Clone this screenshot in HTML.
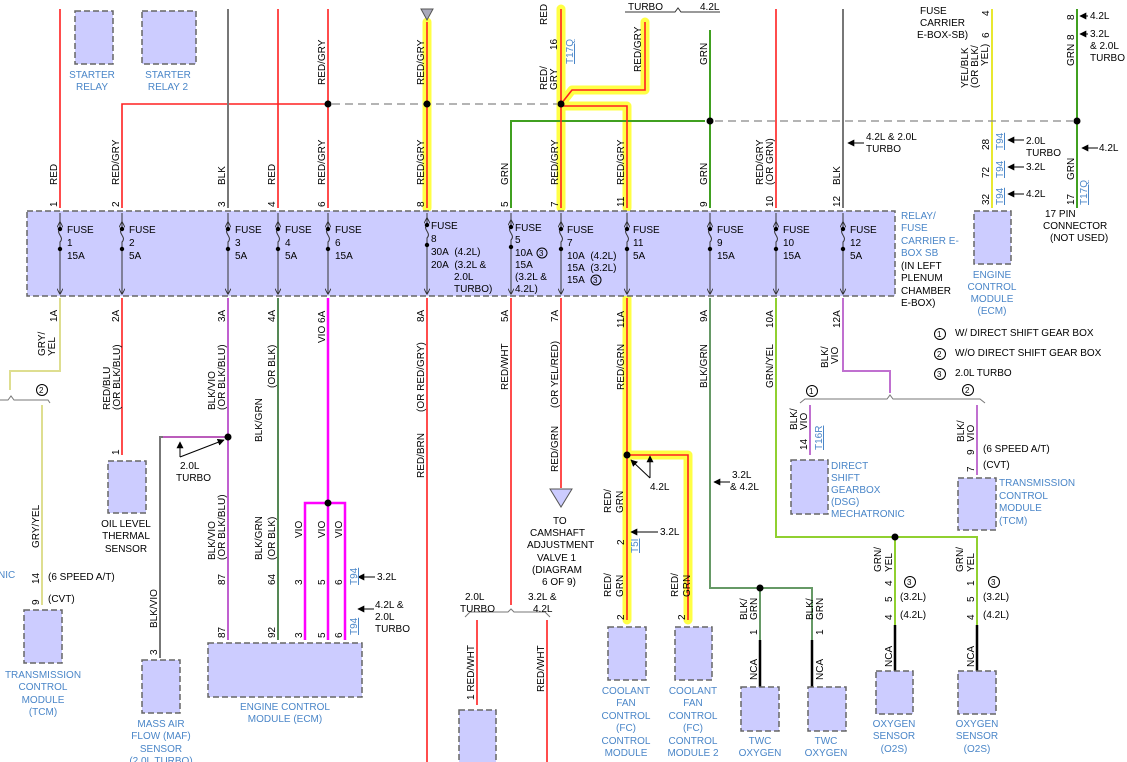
<!DOCTYPE html>
<html><head><meta charset="utf-8"><style>
html,body{margin:0;padding:0;background:#fff;}
svg{display:block;font-family:"Liberation Sans",sans-serif;font-size:10px;}
.b{fill:#4a86c8;}
.box{fill:#ccccff;stroke:#666;stroke-width:1.5;stroke-dasharray:6,3;}
.hl{stroke:#ffff44;stroke-width:9;fill:none;stroke-linecap:round;stroke-linejoin:round;}
.r{stroke:#ff2020;stroke-width:1.6;fill:none;}
.g{stroke:#40a020;stroke-width:2;fill:none;}
.k{stroke:#777;stroke-width:2;fill:none;}
.d{stroke:#888;stroke-width:1.2;stroke-dasharray:8,5;fill:none;}
.f{stroke:#333;stroke-width:1;fill:none;}
.a{stroke:#000;stroke-width:1;fill:none;}
</style></head><body>
<svg width="1127" height="762" viewBox="0 0 1127 762" xmlns="http://www.w3.org/2000/svg">
<defs>
<marker id="ar" viewBox="0 0 10 10" refX="9" refY="5" markerWidth="7" markerHeight="7" orient="auto"><path d="M0 0L10 5L0 10Z" fill="#000"/></marker>
<marker id="av" viewBox="0 0 10 10" refX="9" refY="5" markerWidth="6" markerHeight="6" orient="auto"><path d="M0 0L10 5L0 10" fill="none" stroke="#333" stroke-width="1.5"/></marker>
</defs>
<!-- top relays -->
<rect class="box" x="75" y="11" width="38" height="53"/>
<rect class="box" x="142" y="11" width="54" height="53"/>
<text class="b" x="92" y="78" text-anchor="middle">STARTER</text><text class="b" x="92" y="90" text-anchor="middle">RELAY</text>
<text class="b" x="168" y="78" text-anchor="middle">STARTER</text><text class="b" x="168" y="90" text-anchor="middle">RELAY 2</text>

<!-- highlights -->
<path class="hl" d="M427 22V208M561 9V208M645 22V90H572L561 104M561 106H627V208"/>
<path class="hl" d="M627 298V620M627 455H688V620"/>

<!-- top wires -->
<path class="r" d="M60 9V208"/>
<path class="r" d="M122 208V104H325"/>
<path class="k" d="M228 9V208"/>
<path class="r" d="M278 9V208"/>
<path class="r" d="M328 9V208"/>
<path class="r" d="M427 22V208"/>
<path class="g" d="M511 208V121H705"/>
<path class="r" d="M561 9V208"/>
<path class="r" d="M645 22V90H572L561 104M561 106H627V208"/>
<path class="g" d="M710 30V208"/>
<path class="r" d="M776 9V208"/>
<path class="k" d="M843 9V208"/>
<path d="M992 9V208" stroke="#e8e830" stroke-width="2"/>
<path class="g" d="M1077 9V208"/>
<path class="d" d="M332 104H557M715 121H1073"/>
<path d="M421 9L427 20L433 9Z" fill="#aab" stroke="#555"/>
<g fill="#000"><circle cx="328" cy="104" r="3.5"/><circle cx="427" cy="104" r="3.5"/><circle cx="561" cy="104" r="3.5"/><circle cx="710" cy="121" r="3.5"/><circle cx="1077" cy="121" r="3.5"/></g>
<path d="M625 12H675L678 8L681 12H720" class="f" stroke="#777"/>
<text x="628" y="10">TURBO</text><text x="700" y="10">4.2L</text>

<!-- top vertical labels -->
<g>
<text transform="translate(57,185) rotate(-90)">RED</text>
<text transform="translate(119,185) rotate(-90)">RED/GRY</text>
<text transform="translate(225,185) rotate(-90)">BLK</text>
<text transform="translate(275,185) rotate(-90)">RED</text>
<text transform="translate(325,185) rotate(-90)">RED/GRY</text>
<text transform="translate(325,85) rotate(-90)">RED/GRY</text>
<text transform="translate(424,185) rotate(-90)">RED/GRY</text>
<text transform="translate(424,85) rotate(-90)">RED/GRY</text>
<text transform="translate(508,185) rotate(-90)">GRN</text>
<text transform="translate(558,185) rotate(-90)">RED/GRY</text>
<text transform="translate(547,90) rotate(-90)">RED/</text><text transform="translate(557,90) rotate(-90)">GRY</text>
<text transform="translate(557,50) rotate(-90)">16</text>
<text transform="translate(547,25) rotate(-90)">RED</text>
<text class="b" transform="translate(573,64) rotate(-90)" text-decoration="underline">T17Q</text>
<text transform="translate(641,72) rotate(-90)">RED/GRY</text>
<text transform="translate(624,185) rotate(-90)">RED/GRY</text>
<text transform="translate(707,185) rotate(-90)">GRN</text>
<text transform="translate(707,65) rotate(-90)">GRN</text>
<text transform="translate(763,185) rotate(-90)">RED/GRY</text><text transform="translate(773,185) rotate(-90)">(OR GRN)</text>
<text transform="translate(840,185) rotate(-90)">BLK</text>
<text transform="translate(968,88) rotate(-90)">YEL/BLK</text><text transform="translate(978,88) rotate(-90)">(OR BLK/</text><text transform="translate(988,66) rotate(-90)">YEL)</text>
<text transform="translate(989,38) rotate(-90)">6</text><text transform="translate(989,16) rotate(-90)">4</text>
<text transform="translate(1074,66) rotate(-90)">GRN</text>
<text transform="translate(1074,40) rotate(-90)">8</text><text transform="translate(1074,20) rotate(-90)">8</text>
<text transform="translate(1074,180) rotate(-90)">GRN</text>
<text transform="translate(989,150) rotate(-90)">28</text><text transform="translate(989,178) rotate(-90)">72</text><text transform="translate(989,205) rotate(-90)">32</text>
<text transform="translate(1074,205) rotate(-90)">17</text>
<g class="b" text-decoration="underline"><text transform="translate(1003,150) rotate(-90)">T94</text><text transform="translate(1003,178) rotate(-90)">T94</text><text transform="translate(1003,205) rotate(-90)">T94</text><text transform="translate(1087,205) rotate(-90)">T17Q</text></g>
<text transform="translate(57,207) rotate(-90)">1</text><text transform="translate(119,207) rotate(-90)">2</text><text transform="translate(225,207) rotate(-90)">3</text><text transform="translate(275,207) rotate(-90)">4</text><text transform="translate(325,207) rotate(-90)">6</text><text transform="translate(424,207) rotate(-90)">8</text><text transform="translate(508,207) rotate(-90)">5</text><text transform="translate(558,207) rotate(-90)">7</text><text transform="translate(624,207) rotate(-90)">11</text><text transform="translate(707,207) rotate(-90)">9</text><text transform="translate(773,207) rotate(-90)">10</text><text transform="translate(840,207) rotate(-90)">12</text>
</g>
<text x="920" y="14">FUSE</text><text x="920" y="26">CARRIER</text><text x="917" y="38">E-BOX-SB)</text>
<text x="1090" y="19">4.2L</text><text x="1090" y="37">3.2L</text><text x="1090" y="49">&amp; 2.0L</text><text x="1090" y="61">TURBO</text>
<text x="866" y="140">4.2L &amp; 2.0L</text><text x="866" y="152">TURBO</text>
<text x="1026" y="144">2.0L</text><text x="1026" y="156">TURBO</text><text x="1026" y="170">3.2L</text><text x="1026" y="197">4.2L</text>
<text x="1099" y="151">4.2L</text>
<path class="a" marker-end="url(#ar)" d="M1088 16H1080"/>
<path class="a" marker-end="url(#ar)" d="M1088 34H1080"/>
<path class="a" marker-end="url(#ar)" d="M1024 167H1008"/>
<path class="a" marker-end="url(#ar)" d="M1024 194H1008"/>
<path class="a" marker-end="url(#ar)" d="M1098 148H1082"/>
<path class="a" marker-end="url(#ar)" d="M864 143H848"/>
<path class="a" marker-end="url(#ar)" d="M374 609H358"/>
<path class="a" marker-end="url(#ar)" d="M730 482H714"/>
<path class="a" marker-end="url(#ar)" d="M1024 140H1008"/>
<text x="1045" y="217">17 PIN</text><text x="1043" y="229">CONNECTOR</text><text x="1050" y="241">(NOT USED)</text>
<rect class="box" x="974" y="211" width="37" height="53"/>
<text class="b" x="992" y="278" text-anchor="middle">ENGINE</text><text class="b" x="992" y="290" text-anchor="middle">CONTROL</text><text class="b" x="992" y="302" text-anchor="middle">MODULE</text><text class="b" x="992" y="314" text-anchor="middle">(ECM)</text>

<!-- fuse box -->
<rect class="box" x="27" y="211" width="868" height="85"/>
<g class="f" marker-start="url(#av)" marker-end="url(#av)">
<path d="M60 222V213M60 256V294"/><path d="M122 222V213M122 256V294"/><path d="M228 222V213M228 256V294"/><path d="M278 222V213M278 256V294"/><path d="M328 222V213M328 256V294"/><path d="M427 218V213M427 252V294"/><path d="M511 220V213M511 254V294"/><path d="M561 222V213M561 256V294"/><path d="M627 222V213M627 256V294"/><path d="M710 222V213M710 256V294"/><path d="M776 222V213M776 256V294"/><path d="M843 222V213M843 256V294"/>
</g>
<g class="f">
<path d="M60 222V229c-5 4 5 8 0 13V256"/><path d="M122 222V229c-5 4 5 8 0 13V256"/><path d="M228 222V229c-5 4 5 8 0 13V256"/><path d="M278 222V229c-5 4 5 8 0 13V256"/><path d="M328 222V229c-5 4 5 8 0 13V256"/><path d="M427 218V225c-5 4 5 8 0 13V252"/><path d="M511 220V227c-5 4 5 8 0 13V254"/><path d="M561 222V229c-5 4 5 8 0 13V256"/><path d="M627 222V229c-5 4 5 8 0 13V256"/><path d="M710 222V229c-5 4 5 8 0 13V256"/><path d="M776 222V229c-5 4 5 8 0 13V256"/><path d="M843 222V229c-5 4 5 8 0 13V256"/>
</g>
<g fill="#000">
<circle cx="60" cy="229" r="2.2"/><circle cx="60" cy="249" r="2.2"/><circle cx="122" cy="229" r="2.2"/><circle cx="122" cy="249" r="2.2"/><circle cx="228" cy="229" r="2.2"/><circle cx="228" cy="249" r="2.2"/><circle cx="278" cy="229" r="2.2"/><circle cx="278" cy="249" r="2.2"/><circle cx="328" cy="229" r="2.2"/><circle cx="328" cy="249" r="2.2"/><circle cx="427" cy="225" r="2.2"/><circle cx="427" cy="245" r="2.2"/><circle cx="511" cy="227" r="2.2"/><circle cx="511" cy="247" r="2.2"/><circle cx="561" cy="229" r="2.2"/><circle cx="561" cy="249" r="2.2"/><circle cx="627" cy="229" r="2.2"/><circle cx="627" cy="249" r="2.2"/><circle cx="710" cy="229" r="2.2"/><circle cx="710" cy="249" r="2.2"/><circle cx="776" cy="229" r="2.2"/><circle cx="776" cy="249" r="2.2"/><circle cx="843" cy="229" r="2.2"/><circle cx="843" cy="249" r="2.2"/>
</g>
<g font-size="10">
<text x="67" y="233">FUSE</text><text x="67" y="246">1</text><text x="67" y="259">15A</text>
<text x="129" y="233">FUSE</text><text x="129" y="246">2</text><text x="129" y="259">5A</text>
<text x="235" y="233">FUSE</text><text x="235" y="246">3</text><text x="235" y="259">5A</text>
<text x="285" y="233">FUSE</text><text x="285" y="246">4</text><text x="285" y="259">5A</text>
<text x="335" y="233">FUSE</text><text x="335" y="246">6</text><text x="335" y="259">15A</text>
<text x="431" y="229">FUSE</text><text x="431" y="242">8</text><text x="431" y="255">30A&#160;&#160;(4.2L)</text><text x="431" y="268">20A&#160;&#160;(3.2L &amp;</text><text x="454" y="280">2.0L</text><text x="454" y="292">TURBO)</text>
<text x="515" y="231">FUSE</text><text x="515" y="243">5</text><text x="515" y="256">10A</text><text x="515" y="268">15A</text><text x="515" y="280">(3.2L &amp;</text><text x="515" y="292">4.2L)</text>
<text x="567" y="233">FUSE</text><text x="567" y="246">7</text><text x="567" y="259">10A&#160;&#160;(4.2L)</text><text x="567" y="271">15A&#160;&#160;(3.2L)</text><text x="567" y="283">15A</text>
<text x="633" y="233">FUSE</text><text x="633" y="246">11</text><text x="633" y="259">5A</text>
<text x="717" y="233">FUSE</text><text x="717" y="246">9</text><text x="717" y="259">15A</text>
<text x="783" y="233">FUSE</text><text x="783" y="246">10</text><text x="783" y="259">15A</text>
<text x="850" y="233">FUSE</text><text x="850" y="246">12</text><text x="850" y="259">5A</text>
</g>
<g fill="none" stroke="#000"><circle cx="542" cy="253" r="5"/><circle cx="596" cy="280" r="5"/></g>
<text x="539" y="256" font-size="8">3</text><text x="593" y="283" font-size="8">3</text>
<text class="b" x="901" y="219">RELAY/</text><text class="b" x="901" y="231">FUSE</text><text class="b" x="901" y="244">CARRIER E-</text><text class="b" x="901" y="256">BOX SB</text>
<text x="901" y="269">(IN LEFT</text><text x="901" y="281">PLENUM</text><text x="901" y="294">CHAMBER</text><text x="901" y="306">E-BOX)</text>

<!-- legend -->
<g fill="none" stroke="#000"><circle cx="940" cy="334" r="5.5"/><circle cx="940" cy="354" r="5.5"/><circle cx="940" cy="374" r="5.5"/></g>
<text x="937" y="337" font-size="8">1</text><text x="937" y="357" font-size="8">2</text><text x="937" y="377" font-size="8">3</text>
<text x="955" y="336">W/ DIRECT SHIFT GEAR BOX</text><text x="955" y="356">W/O DIRECT SHIFT GEAR BOX</text><text x="955" y="376">2.0L TURBO</text>

<!-- lower wires -->
<path d="M60 298V371H10V390M42 405V605" stroke="#dede90" stroke-width="2" fill="none"/>
<path d="M0 400H8L11 396L14 400H48L50 403" stroke="#777" fill="none"/>
<path class="r" d="M122 298V455"/>
<path d="M228 298V640" stroke="#c060d0" stroke-width="2"/>
<path d="M228 437H160V658" stroke="#777" stroke-width="2" fill="none"/>
<path d="M228 437H163" stroke="#ff40ff" stroke-width="1"/>
<path d="M278 298V640" stroke="#558855" stroke-width="2"/>
<path d="M328 298V640M305 640V503H345V640" stroke="#ff00ff" stroke-width="2.5" fill="none"/>
<path class="r" d="M427 298V762"/>
<path class="r" d="M511 298V605M477 620V705M547 620V762"/>
<path d="M465 617L470 612H508L511 609L514 612H545L550 617" stroke="#777" fill="none"/>
<path class="r" d="M561 298V488"/>
<path d="M550 489L561 507L572 489Z" fill="#ccccff" stroke="#555"/>
<path class="r" d="M627 298V620M627 455H688V620"/>
<path d="M710 298V588H812V640M760 588V640" stroke="#669966" stroke-width="2" fill="none"/>
<path d="M776 298V537H977V625M895 537V625" stroke="#90d030" stroke-width="2" fill="none"/>
<path d="M843 298V371H890V393M810 405V455M977 405V475" stroke="#c070d0" stroke-width="2" fill="none"/>
<path d="M800 403L805 399H887L890 395L893 399H980L985 403" stroke="#777" fill="none"/>
<path d="M760 640V687M812 640V687M895 625V672M977 625V672" stroke="#000" stroke-width="2.5"/>
<g fill="#000"><circle cx="228" cy="437" r="3.5"/><circle cx="328" cy="503" r="3.5"/><circle cx="627" cy="455" r="3.5"/><circle cx="760" cy="588" r="3.5"/><circle cx="895" cy="537" r="3.5"/></g>
<g fill="none" stroke="#000"><circle cx="42" cy="390" r="5.5"/><circle cx="812" cy="391" r="5.5"/><circle cx="968" cy="390" r="5.5"/><circle cx="910" cy="582" r="5.5"/><circle cx="994" cy="582" r="5.5"/></g>
<text x="39" y="393" font-size="8">2</text><text x="809" y="394" font-size="8">1</text><text x="965" y="393" font-size="8">2</text><text x="907" y="585" font-size="8">3</text><text x="991" y="585" font-size="8">3</text>
<path class="a" marker-end="url(#ar)" d="M180 457V442"/>
<path class="a" marker-end="url(#ar)" d="M180 457L224 440"/>
<text x="180" y="469">2.0L</text><text x="176" y="481">TURBO</text>
<path class="a" marker-end="url(#ar)" d="M650 478L631 460"/>
<path class="a" marker-end="url(#ar)" d="M650 478V456"/>
<text x="650" y="490">4.2L</text>
<path class="a" marker-end="url(#ar)" d="M658 532H631"/>
<path class="a" marker-end="url(#ar)" d="M375 577H358"/>
<text x="732" y="478">3.2L</text><text x="730" y="490">&amp; 4.2L</text>
<text x="377" y="580">3.2L</text><text x="375" y="608">4.2L &amp;</text><text x="375" y="620">2.0L</text><text x="375" y="632">TURBO</text>
<text x="660" y="535">3.2L</text>
<text x="900" y="600">(3.2L)</text><text x="900" y="618">(4.2L)</text><text x="983" y="600">(3.2L)</text><text x="983" y="618">(4.2L)</text>
<text x="48" y="580">(6 SPEED A/T)</text><text x="48" y="602">(CVT)</text>
<text x="983" y="452">(6 SPEED A/T)</text><text x="983" y="468">(CVT)</text>
<text x="465" y="600">2.0L</text><text x="460" y="612">TURBO</text><text x="528" y="600">3.2L &amp;</text><text x="533" y="612">4.2L</text>
<text x="553" y="524">TO</text><text x="530" y="536">CAMSHAFT</text><text x="527" y="548">ADJUSTMENT</text><text x="537" y="561">VALVE 1</text><text x="532" y="573">(DIAGRAM</text><text x="542" y="585">6 OF 9)</text>

<!-- lower vertical labels -->
<g>
<text transform="translate(57,322) rotate(-90)">1A</text><text transform="translate(119,322) rotate(-90)">2A</text><text transform="translate(225,322) rotate(-90)">3A</text><text transform="translate(275,322) rotate(-90)">4A</text><text transform="translate(325,343) rotate(-90)">VIO 6A</text><text transform="translate(424,322) rotate(-90)">8A</text><text transform="translate(508,322) rotate(-90)">5A</text><text transform="translate(558,322) rotate(-90)">7A</text><text transform="translate(624,328) rotate(-90)">11A</text><text transform="translate(707,322) rotate(-90)">9A</text><text transform="translate(773,328) rotate(-90)">10A</text><text transform="translate(840,328) rotate(-90)">12A</text>
<text transform="translate(45,356) rotate(-90)">GRY/</text><text transform="translate(55,356) rotate(-90)">YEL</text>
<text transform="translate(110,410) rotate(-90)">RED/BLU</text><text transform="translate(120,410) rotate(-90)">(OR BLK/BLU)</text>
<text transform="translate(215,410) rotate(-90)">BLK/VIO</text><text transform="translate(225,410) rotate(-90)">(OR BLK/BLU)</text>
<text transform="translate(262,442) rotate(-90)">BLK/GRN</text><text transform="translate(275,388) rotate(-90)">(OR BLK)</text>
<text transform="translate(424,478) rotate(-90)">RED/BRN</text><text transform="translate(424,412) rotate(-90)">(OR RED/GRY)</text>
<text transform="translate(508,390) rotate(-90)">RED/WHT</text>
<text transform="translate(558,472) rotate(-90)">RED/GRN</text><text transform="translate(558,408) rotate(-90)">(OR YEL/RED)</text>
<text transform="translate(624,390) rotate(-90)">RED/GRN</text>
<text transform="translate(707,388) rotate(-90)">BLK/GRN</text>
<text transform="translate(773,388) rotate(-90)">GRN/YEL</text>
<text transform="translate(828,368) rotate(-90)">BLK/</text><text transform="translate(838,364) rotate(-90)">VIO</text>
<text transform="translate(39,548) rotate(-90)">GRY/YEL</text>
<text transform="translate(39,584) rotate(-90)">14</text><text transform="translate(39,605) rotate(-90)">9</text>
<text transform="translate(119,455) rotate(-90)">1</text>
<text transform="translate(157,628) rotate(-90)">BLK/VIO</text><text transform="translate(157,655) rotate(-90)">3</text>
<text transform="translate(215,560) rotate(-90)">BLK/VIO</text><text transform="translate(225,560) rotate(-90)">(OR BLK/BLU)</text>
<text transform="translate(262,560) rotate(-90)">BLK/GRN</text><text transform="translate(275,560) rotate(-90)">(OR BLK)</text>
<text transform="translate(225,585) rotate(-90)">87</text><text transform="translate(275,585) rotate(-90)">64</text>
<text transform="translate(225,638) rotate(-90)">87</text><text transform="translate(275,638) rotate(-90)">92</text>
<text transform="translate(302,538) rotate(-90)">VIO</text><text transform="translate(325,538) rotate(-90)">VIO</text><text transform="translate(342,538) rotate(-90)">VIO</text>
<text transform="translate(302,585) rotate(-90)">3</text><text transform="translate(325,585) rotate(-90)">5</text><text transform="translate(342,585) rotate(-90)">6</text>
<text transform="translate(302,638) rotate(-90)">3</text><text transform="translate(325,638) rotate(-90)">5</text><text transform="translate(342,638) rotate(-90)">6</text>
<text class="b" text-decoration="underline" transform="translate(357,585) rotate(-90)">T94</text><text class="b" text-decoration="underline" transform="translate(357,635) rotate(-90)">T94</text>
<text transform="translate(474,700) rotate(-90)">1 RED/WHT</text><text transform="translate(544,692) rotate(-90)">RED/WHT</text>
<text transform="translate(611,513) rotate(-90)">RED/</text><text transform="translate(623,513) rotate(-90)">GRN</text>
<text transform="translate(624,545) rotate(-90)">2</text><text class="b" text-decoration="underline" transform="translate(638,553) rotate(-90)">T5I</text>
<text transform="translate(611,597) rotate(-90)">RED/</text><text transform="translate(623,597) rotate(-90)">GRN</text><text transform="translate(624,620) rotate(-90)">2</text>
<text transform="translate(678,597) rotate(-90)">RED/</text><text transform="translate(690,597) rotate(-90)">GRN</text><text transform="translate(685,620) rotate(-90)">2</text>
<text transform="translate(747,620) rotate(-90)">BLK/</text><text transform="translate(757,620) rotate(-90)">GRN</text><text transform="translate(757,635) rotate(-90)">1</text>
<text transform="translate(813,620) rotate(-90)">BLK/</text><text transform="translate(823,620) rotate(-90)">GRN</text><text transform="translate(823,635) rotate(-90)">1</text>
<text transform="translate(757,680) rotate(-90)">NCA</text><text transform="translate(823,680) rotate(-90)">NCA</text>
<text transform="translate(881,572) rotate(-90)">GRN/</text><text transform="translate(892,572) rotate(-90)">YEL</text>
<text transform="translate(963,572) rotate(-90)">GRN/</text><text transform="translate(974,572) rotate(-90)">YEL</text>
<text transform="translate(892,586) rotate(-90)">4</text><text transform="translate(892,602) rotate(-90)">5</text><text transform="translate(892,620) rotate(-90)">4</text>
<text transform="translate(974,586) rotate(-90)">1</text><text transform="translate(974,602) rotate(-90)">5</text><text transform="translate(974,620) rotate(-90)">4</text>
<text transform="translate(892,667) rotate(-90)">NCA</text><text transform="translate(974,667) rotate(-90)">NCA</text>
<text transform="translate(797,430) rotate(-90)">BLK/</text><text transform="translate(807,430) rotate(-90)">VIO</text><text transform="translate(807,450) rotate(-90)">14</text>
<text class="b" text-decoration="underline" transform="translate(822,450) rotate(-90)">T16R</text>
<text transform="translate(964,442) rotate(-90)">BLK/</text><text transform="translate(974,442) rotate(-90)">VIO</text><text transform="translate(974,455) rotate(-90)">9</text><text transform="translate(974,472) rotate(-90)">7</text>
</g>

<!-- lower boxes -->
<rect class="box" x="108" y="461" width="38" height="52"/>
<text x="126" y="527" text-anchor="middle">OIL LEVEL</text><text x="126" y="539" text-anchor="middle">THERMAL</text><text x="126" y="552" text-anchor="middle">SENSOR</text>
<rect class="box" x="24" y="610" width="38" height="53"/>
<g class="b" text-anchor="middle"><text x="43" y="678">TRANSMISSION</text><text x="43" y="690">CONTROL</text><text x="43" y="703">MODULE</text><text x="43" y="715">(TCM)</text></g>
<text class="b" x="-2" y="578">NIC</text>
<rect class="box" x="142" y="660" width="38" height="53"/>
<g class="b" text-anchor="middle"><text x="161" y="727">MASS AIR</text><text x="161" y="739">FLOW (MAF)</text><text x="161" y="752">SENSOR</text><text x="161" y="764">(2.0L TURBO)</text></g>
<rect class="box" x="208" y="643" width="154" height="54"/>
<g class="b" text-anchor="middle"><text x="285" y="710">ENGINE CONTROL</text><text x="285" y="722">MODULE (ECM)</text></g>
<rect class="box" x="459" y="710" width="37" height="60"/>
<rect class="box" x="608" y="627" width="38" height="53"/>
<rect class="box" x="675" y="627" width="37" height="53"/>
<g class="b" text-anchor="middle"><text x="626" y="694">COOLANT</text><text x="626" y="706">FAN</text><text x="626" y="719">CONTROL</text><text x="626" y="731">(FC)</text><text x="626" y="744">CONTROL</text><text x="626" y="756">MODULE</text>
<text x="693" y="694">COOLANT</text><text x="693" y="706">FAN</text><text x="693" y="719">CONTROL</text><text x="693" y="731">(FC)</text><text x="693" y="744">CONTROL</text><text x="693" y="756">MODULE 2</text></g>
<rect class="box" x="741" y="687" width="38" height="44"/>
<rect class="box" x="808" y="687" width="38" height="44"/>
<g class="b" text-anchor="middle"><text x="760" y="744">TWC</text><text x="760" y="756">OXYGEN</text><text x="826" y="744">TWC</text><text x="826" y="756">OXYGEN</text></g>
<rect class="box" x="876" y="671" width="37" height="43"/>
<rect class="box" x="958" y="671" width="38" height="43"/>
<g class="b" text-anchor="middle"><text x="894" y="727">OXYGEN</text><text x="894" y="739">SENSOR</text><text x="894" y="752">(O2S)</text><text x="977" y="727">OXYGEN</text><text x="977" y="739">SENSOR</text><text x="977" y="752">(O2S)</text></g>
<rect class="box" x="791" y="460" width="37" height="54"/>
<g class="b"><text x="831" y="469">DIRECT</text><text x="831" y="481">SHIFT</text><text x="831" y="493">GEARBOX</text><text x="831" y="505">(DSG)</text><text x="831" y="517">MECHATRONIC</text></g>
<rect class="box" x="958" y="478" width="38" height="52"/>
<g class="b"><text x="999" y="486">TRANSMISSION</text><text x="999" y="499">CONTROL</text><text x="999" y="511">MODULE</text><text x="999" y="524">(TCM)</text></g>
</svg>
</body></html>
